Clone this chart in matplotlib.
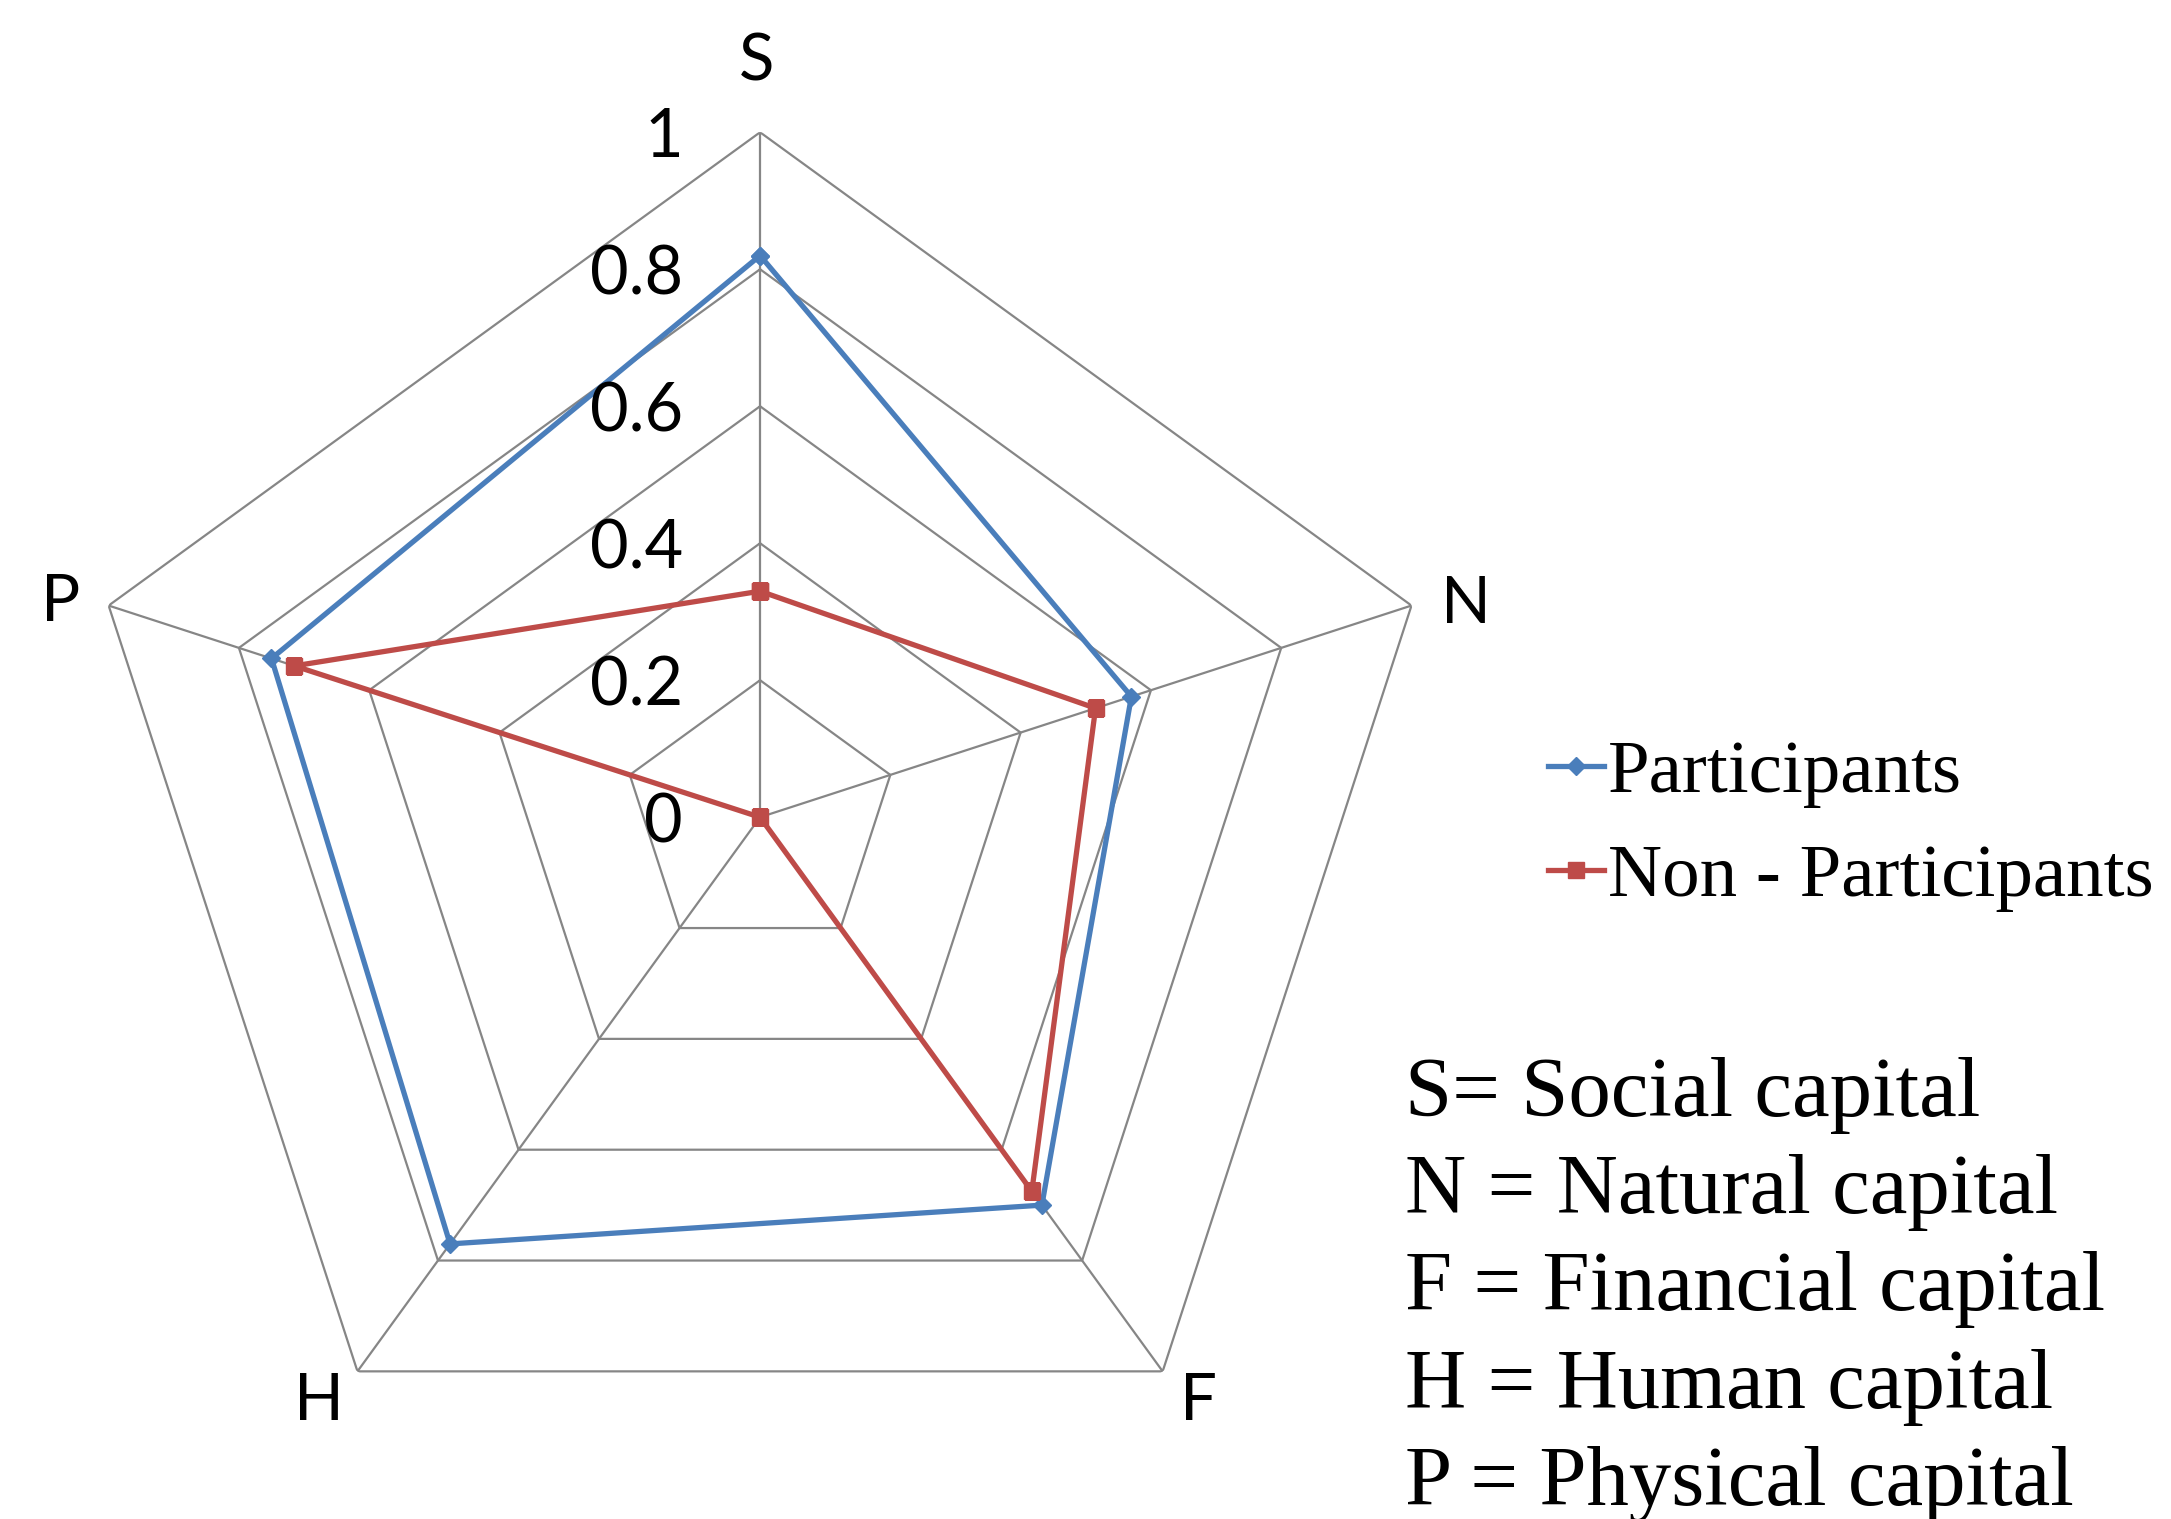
import numpy as np
import matplotlib
matplotlib.use('Agg')
import matplotlib.pyplot as plt
from matplotlib.transforms import ScaledTranslation

# values
categories = ['S', 'N', 'F', 'H', 'P']
participants = [0.82, 0.57, 0.70, 0.77, 0.75]
non_participants = [0.33, 0.515, 0.675, 0.0, 0.715]
ring_levels = [0.2, 0.4, 0.6, 0.8, 1.0]
tick_values = [0, 0.2, 0.4, 0.6, 0.8, 1.0]
tick_labels = ['0', '0.2', '0.4', '0.6', '0.8', '1']
series_names = ['Participants', 'Non - Participants']
abbreviations = ['S= Social capital', 'N = Natural capital', 'F = Financial capital',
                 'H = Human capital', 'P = Physical capital']

blue = '#4A7EBB'
red = '#BE4B48'
grid_c = '#868686'
sans = ['Lato', 'DejaVu Sans']
serif = ['Liberation Serif', 'DejaVu Serif']

fig = plt.figure(figsize=(21.71, 15.19), dpi=100)
ax = fig.add_axes([0.0346, 0.011, 0.631, 0.902], projection='polar')
ax.set_theta_offset(np.pi / 2)
ax.set_theta_direction(-1)
ax.set_ylim(0, 1)
ax.set_xticks([])
ax.set_yticks([])
ax.grid(False)
ax.spines['polar'].set_visible(False)
ax.patch.set_visible(False)

n = len(categories)
angles = np.arange(n) * 2 * np.pi / n
closed = np.append(angles, angles[0])

# pentagon rings and spokes
for r in ring_levels:
    ax.plot(closed, [r] * (n + 1), color=grid_c, lw=1.6, zorder=1)
for a in angles:
    ax.plot([a, a], [0, 1], color=grid_c, lw=1.6, zorder=1)

# series
ax.plot(closed, participants + participants[:1], color=blue, lw=3.8,
        marker='D', markersize=9.5, label=series_names[0], zorder=3)
ax.plot(closed, non_participants + non_participants[:1], color=red, lw=3.8,
        marker='s', markersize=12, label=series_names[1], zorder=4)

# radial tick labels to the left of the S axis
shift = ScaledTranslation(-0.77, -0.06, fig.dpi_scale_trans)
for v, lab in zip(tick_values, tick_labels):
    ax.text(0, v, lab, transform=ax.transData + shift, ha='right', va='center',
            fontsize=48, family=sans, color='black')

# category labels, offset (in pixels) from the outer ring vertex
label_off = [(-4, 70), (54, 1), (36, -30), (-39, -30), (-48, 3)]
for a, lab, (dx, dy) in zip(angles, categories, label_off):
    tr = ax.transData + ScaledTranslation(dx / 100, dy / 100, fig.dpi_scale_trans)
    ax.text(a, 1.0, lab, transform=tr, ha='center', va='center',
            fontsize=47, family=sans, color='black')

leg = fig.legend(loc='upper left', bbox_to_anchor=(1548 / 2171, 1 - 740 / 1519),
                 frameon=False, prop={'family': serif, 'size': 54},
                 handlelength=0.75, handletextpad=0.05, borderpad=0,
                 borderaxespad=0, labelspacing=0.47)

for i, txt in enumerate(abbreviations):
    fig.text(1405 / 2171, 1 - (1116 + i * 97.2) / 1519, txt, ha='left', va='baseline',
             fontsize=61, family=serif, color='black')

fig.savefig('out.png', dpi=100, facecolor='white')
